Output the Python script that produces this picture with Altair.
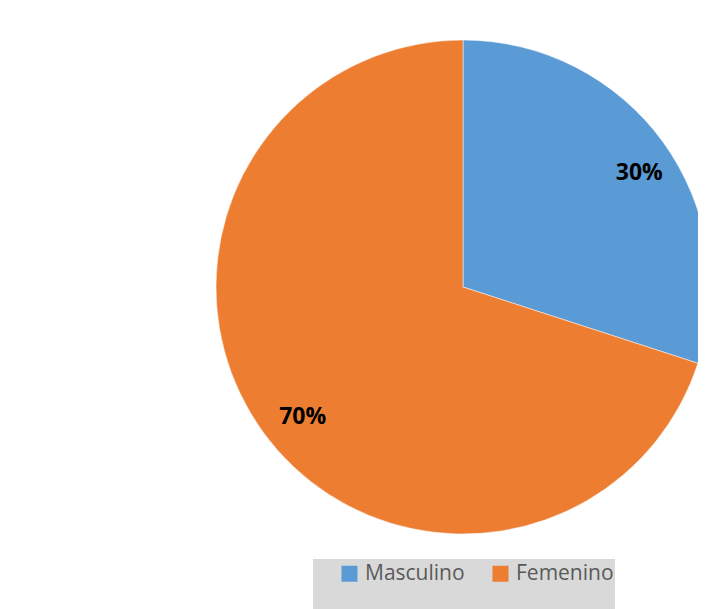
import altair as alt
import pandas as pd

categories = ["Masculino", "Femenino"]
values = [30, 70]
labels = ["30%", "70%"]
colors = ["#5B9BD5", "#ED7D31"]

df = pd.DataFrame({"cat": categories, "value": values, "label": labels, "ord": [0, 1]})

CX, CY, R = 455, 279, 247

base = alt.Chart(df).encode(
    theta=alt.Theta("value:Q", stack=True),
    order=alt.Order("ord:Q"),
)

bg = alt.Chart(alt.Data(values=[{"a": 1}])).mark_rect(color="#d9d9d9").encode(
    x=alt.value(305), x2=alt.value(607), y=alt.value(551), y2=alt.value(610)
)

arc = base.mark_arc(outerRadius=R, stroke="white", strokeWidth=0.5).encode(
    x=alt.value(CX),
    y=alt.value(CY),
    color=alt.Color(
        "cat:N",
        scale=alt.Scale(domain=categories, range=colors),
        sort=categories,
        legend=alt.Legend(
            orient="none",
            legendX=325,
            legendY=549,
            direction="horizontal",
            title=None,
            padding=6,
            symbolType="square",
            symbolSize=256,
            symbolStrokeWidth=0,
            symbolOpacity=1,
            labelFontSize=21,
            labelFont="Open Sans",
            labelColor="#595959",
            labelOffset=5,
            columnPadding=25,
        ),
    ),
)

text = base.mark_text(
    radius=208, dx=8, dy=8, fontSize=23, fontWeight="bold", font="Open Sans", color="#000000"
).encode(x=alt.value(CX), y=alt.value(CY), text="label:N")

chart = alt.layer(bg, arc, text).properties(
    width=690, height=601, padding=0, autosize=alt.AutoSizeParams(type="none")
).configure_view(stroke=None)

chart.save("out.html", embed_options={"renderer": "svg", "actions": False})
